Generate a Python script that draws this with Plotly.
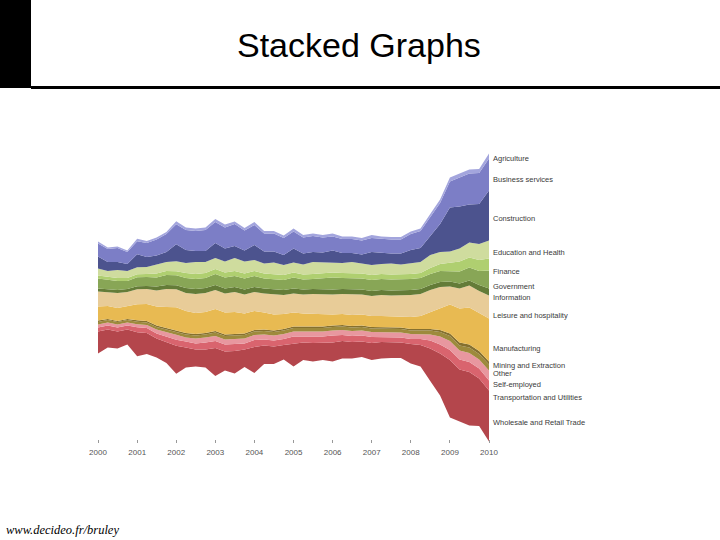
import pandas as pd
import plotly.graph_objects as go

# ---------------- data (unemployed, thousands; quarterly 2000 - 2010) ----------------
dates = pd.date_range("2000-01-01", periods=41, freq="QS")
years = [str(y) for y in range(2000, 2011)]

agriculture = [100,75,75,75,125,100,100,100,150,125,125,125,150,150,125,125,150,125,125,125,
               150,125,125,125,150,125,125,125,150,125,125,125,125,125,150,175,200,200,200,200,250]
business = [650,650,700,600,650,700,800,900,1000,1000,1000,1050,1050,1050,1100,1000,1000,900,900,850,
            850,800,800,750,700,700,700,700,700,700,700,700,800,850,950,1050,1300,1450,1550,1550,1600]
construction = [600,450,400,350,650,500,450,500,850,650,550,550,750,650,600,550,750,600,550,500,
                700,550,500,500,600,500,450,450,650,550,500,550,650,700,950,1400,2200,2100,1900,2000,2500]
education = [350,300,400,350,350,350,450,450,500,500,600,550,550,550,650,600,550,500,600,500,
             500,500,600,550,500,500,550,500,500,500,550,500,550,550,650,600,550,650,750,800,900]
finance = [150,150,150,150,150,150,200,200,200,250,250,250,250,250,250,250,250,250,250,250,
           250,250,250,250,250,250,250,250,250,250,250,250,250,250,300,350,450,500,500,550,600]
government = [500,450,450,400,450,450,450,500,500,500,500,500,550,550,550,550,550,500,500,500,
              550,500,500,550,600,550,550,550,550,550,550,550,550,550,550,550,500,600,650,700,900]
information = [150,150,150,150,150,150,200,200,200,250,250,250,250,250,250,250,250,250,250,250,
               250,250,250,250,250,250,250,250,250,250,250,250,250,250,250,250,250,250,250,300,350]
leisure = [750,700,750,700,750,750,800,900,900,900,950,950,950,950,1000,950,950,950,1000,950,
           950,950,1000,1000,1000,1000,1050,1000,1000,1050,1050,1050,1100,1100,1100,1050,900,1000,1100,1100,1150]
manufacturing = [700,650,650,650,800,850,950,1050,1150,1100,1050,1050,1100,1100,1100,1000,950,850,800,750,
                 700,650,650,600,550,550,550,550,550,550,550,550,600,650,850,1100,1450,1700,1850,1900,2150]
mining = [75,50,50,50,75,75,75,75,75,75,75,75,75,75,75,75,75,75,75,75,
          75,75,75,75,75,75,75,75,75,75,75,75,75,75,75,100,125,150,150,150,150]
other = [125,125,125,125,125,125,125,150,150,150,150,150,175,175,175,175,175,175,175,175,
         175,175,175,175,175,175,175,175,175,175,175,175,175,175,200,225,250,250,275,275,300]
self_employed = [150,150,150,150,150,150,200,200,250,200,250,250,250,250,250,250,250,250,250,250,
                 250,250,250,250,250,250,250,250,250,250,250,250,250,250,300,400,450,450,450,450,500]
transportation = [200,200,200,200,250,250,250,300,300,300,300,350,350,350,350,300,350,300,300,300,
                  350,300,300,300,350,300,300,300,300,250,250,250,250,300,400,450,500,500,500,500,500]
wholesale = [1100,900,850,750,1200,1050,950,1025,1400,1000,850,900,1400,950,1125,875,1300,925,875,725,
             1150,875,925,875,950,875,825,775,850,825,775,775,975,1075,1625,2100,2875,2600,2675,2375,2550]

# top-to-bottom order as displayed
names = ["Agriculture", "Business services", "Construction", "Education and Health", "Finance",
         "Government", "Information", "Leisure and hospitality", "Manufacturing",
         "Mining and Extraction", "Other", "Self-employed", "Transportation and Utilities",
         "Wholesale and Retail Trade"]
values = [agriculture, business, construction, education, finance, government, information,
          leisure, manufacturing, mining, other, self_employed, transportation, wholesale]
colors = ["#a3a5dd", "#7c7ec6", "#4c538e", "#cfdc9e", "#afcf70", "#88a656", "#647c38",
          "#e8cc98", "#e8ba52", "#85702f", "#9d8a3c", "#e8979f", "#d9646e", "#b4464c"]
# vertical nudges (px) of the right-hand labels
label_shift = [-2, -5, -3, -3, -7, -7, -5, -8, -8, -2, -6, -9, -12, -6]

# ---------------- geometry helpers (pixel -> paper) ----------------
PL, PR, PT, PB = 98, 489, 140, 445
def px(x):
    return (x - PL) / (PR - PL)
def py(y):
    return (PB - y) / (PB - PT)

fig = go.Figure()

n = len(dates)
total = [sum(v[i] for v in values) for i in range(n)]
base = [-t / 2 for t in total]  # silhouette (centred) baseline

fig.add_trace(go.Scatter(x=dates, y=base, mode="lines", line=dict(width=0),
                         showlegend=False, hoverinfo="skip"))
cum = list(base)
label_pos = {}
for name, vals, col in reversed(list(zip(names, values, colors))):
    prev_end = cum[-1]
    cum = [c + v for c, v in zip(cum, vals)]
    label_pos[name] = prev_end + vals[-1] / 2
    fig.add_trace(go.Scatter(x=dates, y=cum, mode="lines", line=dict(width=0, color=col),
                             fill="tonexty", fillcolor=col, showlegend=False,
                             hoverinfo="skip", name=name))

for name, sh in zip(names, label_shift):
    fig.add_annotation(x=dates[-1], y=label_pos[name], xref="x", yref="y", text=name,
                       showarrow=False, xanchor="left", yanchor="middle", xshift=2, yshift=sh,
                       font=dict(family="Liberation Sans, Arial", size=7.5, color="#3a3a3a"))

# slide decorations
fig.add_shape(type="rect", xref="paper", yref="paper", x0=px(0), x1=px(31), y0=py(0), y1=py(88),
              fillcolor="black", line=dict(width=0))
fig.add_shape(type="rect", xref="paper", yref="paper", x0=px(31), x1=px(720), y0=py(86), y1=py(89),
              fillcolor="black", line=dict(width=0))
fig.add_annotation(x=px(359), y=py(45), xref="paper", yref="paper", text="Stacked Graphs",
                   showarrow=False, xanchor="center", yanchor="middle",
                   font=dict(family="Liberation Sans, Arial", size=34, color="black"))
fig.add_annotation(x=px(4), y=py(530), xref="paper", yref="paper",
                   text="<i>www.decideo.fr/bruley</i>", showarrow=False,
                   xanchor="left", yanchor="middle",
                   font=dict(family="Liberation Serif, Times New Roman", size=12.5, color="black"))

fig.update_layout(
    width=720, height=540, autosize=False,
    margin=dict(l=PL, r=720 - PR, t=PT, b=540 - PB, pad=0),
    paper_bgcolor="white", plot_bgcolor="white",
    xaxis=dict(type="date", range=[dates[0], dates[-1]],
               tickvals=[f"{y}-01-01" for y in years], ticktext=years,
               ticks="outside", ticklen=3, tickcolor="#999999", tickwidth=1,
               ticklabelstandoff=2,
               showgrid=False, zeroline=False, showline=False,
               anchor="free", position=py(439),
               tickfont=dict(family="Liberation Sans, Arial", size=8, color="#555555")),
    yaxis=dict(visible=False, range=[-(PB - 297.5) * 50, (297.5 - PT) * 50], fixedrange=True),
)

fig.write_html("out.html")
